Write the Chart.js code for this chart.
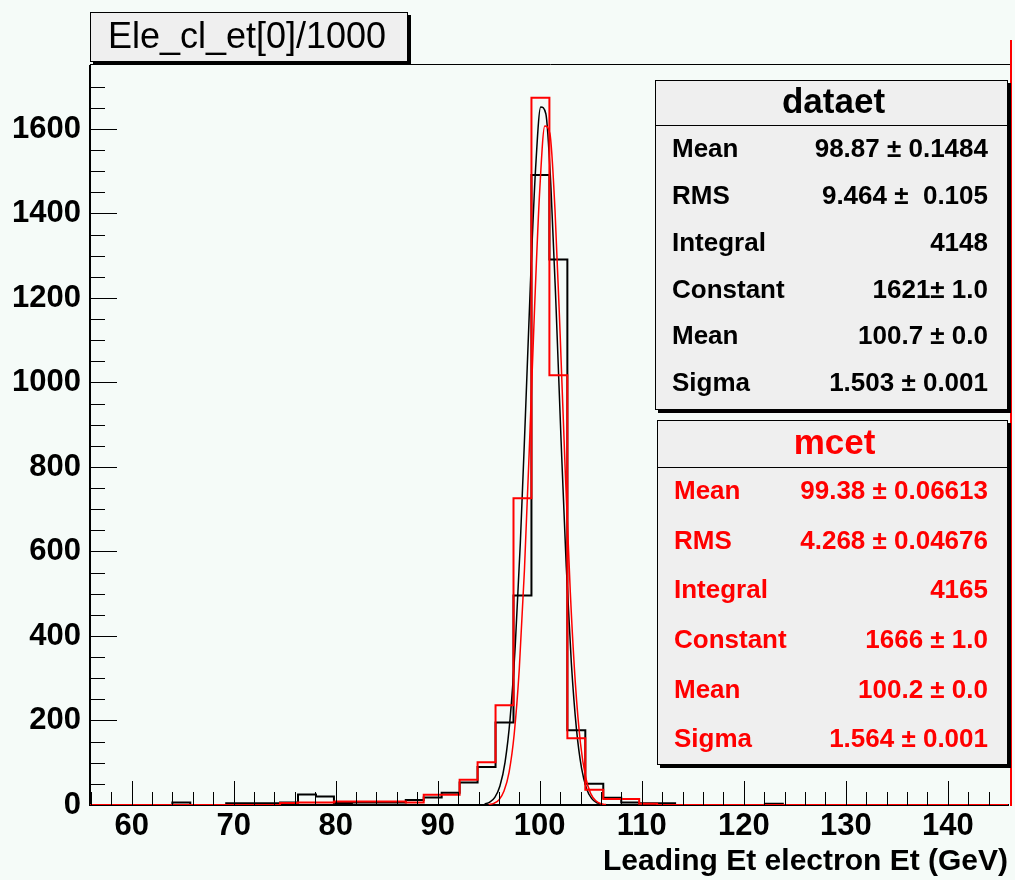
<!DOCTYPE html>
<html>
<head>
<meta charset="utf-8">
<script src="https://cdn.jsdelivr.net/npm/chart.js@4/dist/chart.umd.min.js"></script>
<style>
  html, body { margin: 0; padding: 0; background: #f5fbf8; }
  #wrap { width: 1015px; height: 880px; }
</style>
</head>
<body>
<div id="wrap"><canvas id="c" width="1015" height="880"></canvas></div>
<script>
// Histogram binning (GeV)
const binStart = 55.19;
const binWidth = 1.76;

// Bin contents, one per bin starting at binStart
const dataCounts = [
    0, 0, 0, 0, 0, 6, 0, 0, 4, 4,
    4, 6, 25, 20, 5, 6, 6, 6, 12, 18,
    29, 53, 90, 195, 496, 1491, 1291, 177, 50, 17,
    6, 4, 4, 0, 0, 0, 0, 0, 3, 0,
    0, 0, 0, 0, 0, 0, 0, 0, 0, 0,
    0, 0
];
const mcCounts = [
    0, 0, 0, 0, 0, 0, 0, 0, 0, 0,
    0, 5, 6, 6, 8, 8, 8, 8, 6, 24,
    24, 60, 101, 236, 726, 1674, 1017, 158, 36, 14,
    14, 3, 0, 0, 0, 0, 0, 0, 0, 0,
    0, 0, 0, 0, 0, 0, 0, 0, 0, 0,
    0, 0
];

// Fit curves
const blackFitX = [94.6, 95.1, 95.6, 96.1, 96.6, 97.1, 97.6, 98.1, 98.6, 99.1, 99.6, 100.1,
    100.6, 101.1, 101.6, 102.1, 102.6, 103.1, 103.6, 104.1, 104.6, 105.1, 105.6, 106.1];
const blackFitY = [2, 7, 18, 45, 101, 205, 376, 620, 923, 1241, 1508, 1652,
    1636, 1462, 1179, 859, 565, 336, 180, 87, 38, 15, 5, 2];
const redFitX = [95, 95.5, 96, 96.5, 97, 97.5, 98, 98.5, 99, 99.5, 100, 100.5,
    101, 101.5, 102, 102.5, 103, 103.5, 104, 104.5, 105, 105.5, 106, 106.5];
const redFitY = [1, 4, 12, 33, 78, 168, 323, 555, 855, 1179, 1454, 1607,
    1589, 1407, 1115, 791, 503, 286, 145, 66, 27, 10, 3, 1];

// Axes
const xMin = 55.92;
const xMax = 145.9;
const xTicks = [60, 70, 80, 90, 100, 110, 120, 130, 140];
const yMax = 1749;
const yTicks = [0, 200, 400, 600, 800, 1000, 1200, 1400, 1600];

// Stats boxes text
const dataStats = [
    ['Mean', '98.87 \u00b1 0.1484'],
    ['RMS', '9.464 \u00b1  0.105'],
    ['Integral', '4148'],
    ['Constant', '1621\u00b1 1.0'],
    ['Mean', '100.7 \u00b1 0.0'],
    ['Sigma', '1.503 \u00b1 0.001']
];
const mcStats = [
    ['Mean', '99.38 \u00b1 0.06613'],
    ['RMS', '4.268 \u00b1 0.04676'],
    ['Integral', '4165'],
    ['Constant', '1666 \u00b1 1.0'],
    ['Mean', '100.2 \u00b1 0.0'],
    ['Sigma', '1.564 \u00b1 0.001']
];

const FONT = "'Liberation Sans', Arial, Helvetica, sans-serif";

// histogram outline points: left edge of each bin plus closing edge
function histPoints(counts) {
    const pts = counts.map((v, i) => ({ x: binStart + i * binWidth, y: v }));
    pts.push({ x: binStart + counts.length * binWidth, y: counts[counts.length - 1] });
    return pts;
}

function curvePoints(xs, ys) {
    return xs.map((x, i) => ({ x: x, y: ys[i] }));
}

// Boxes with a drop shadow, ROOT style
function shadowBox(ctx, x, y, w, h) {
    ctx.fillStyle = '#000';
    ctx.fillRect(x + 3, y + 3, w, h);
    ctx.fillStyle = '#efefef';
    ctx.fillRect(x, y, w, h);
    ctx.strokeStyle = '#000';
    ctx.lineWidth = 1;
    ctx.strokeRect(x + 0.5, y + 0.5, w - 1, h - 1);
}

function drawStats(ctx, box, title, rows, color) {
    shadowBox(ctx, box.x, box.y, box.w, box.h);
    ctx.beginPath();
    ctx.moveTo(box.x, box.y + box.head + 0.5);
    ctx.lineTo(box.x + box.w, box.y + box.head + 0.5);
    ctx.strokeStyle = '#000';
    ctx.lineWidth = 1;
    ctx.stroke();

    ctx.fillStyle = color;
    ctx.textBaseline = 'middle';
    ctx.textAlign = 'center';
    ctx.font = 'bold 35px ' + FONT;
    ctx.fillText(title, box.x + box.w / 2 + 2, box.y + box.head / 2 + 1);

    ctx.font = 'bold 26px ' + FONT;
    rows.forEach((row, i) => {
        const yy = box.firstRow + i * box.rowStep;
        ctx.textAlign = 'left';
        ctx.fillText(row[0], box.x + 17, yy);
        ctx.textAlign = 'right';
        ctx.fillText(row[1], box.x + box.w - 20, yy);
    });
}

const rootDecor = {
    id: 'rootDecor',
    afterDatasetsDraw(chart) {
        const { ctx, chartArea, scales } = chart;
        const x = scales.x;
        const y = scales.y;
        ctx.save();
        ctx.strokeStyle = '#000';
        ctx.lineWidth = 1;

        // y ticks inside the frame
        ctx.beginPath();
        for (let v = 0; v <= yMax; v += 50) {
            const py = Math.round(y.getPixelForValue(v)) + 0.5;
            const len = v % 200 === 0 ? 27 : 15;
            ctx.moveTo(chartArea.left, py);
            ctx.lineTo(chartArea.left + len, py);
        }
        // x ticks inside the frame
        for (let v = 56; v <= xMax; v += 2) {
            const px = Math.round(x.getPixelForValue(v)) + 0.5;
            const len = v % 10 === 0 ? 24 : 13;
            ctx.moveTo(px, chartArea.bottom);
            ctx.lineTo(px, chartArea.bottom - len);
        }
        ctx.stroke();

        // top frame line
        ctx.beginPath();
        ctx.moveTo(chartArea.left, chartArea.top - 1.5);
        ctx.lineTo(chartArea.right + 3, chartArea.top - 1.5);
        ctx.stroke();

        // right edge in red
        ctx.beginPath();
        ctx.strokeStyle = '#ff0000';
        ctx.lineWidth = 2;
        ctx.moveTo(chartArea.right + 3, 40);
        ctx.lineTo(chartArea.right + 3, chartArea.bottom + 1);
        ctx.stroke();
        ctx.restore();
    },
    afterDraw(chart) {
        const ctx = chart.ctx;
        ctx.save();

        // title box
        shadowBox(ctx, 90, 12, 318, 50);
        ctx.fillStyle = '#000';
        ctx.font = '36px ' + FONT;
        ctx.textAlign = 'center';
        ctx.textBaseline = 'middle';
        ctx.fillText('Ele_cl_et[0]/1000', 247, 38);

        drawStats(ctx, { x: 655, y: 80, w: 353, h: 330, head: 45, firstRow: 150, rowStep: 46.8 },
            'dataet', dataStats, '#000');
        drawStats(ctx, { x: 657, y: 420, w: 351, h: 345, head: 47, firstRow: 492, rowStep: 49.6 },
            'mcet', mcStats, '#ff0000');
        ctx.restore();
    }
};

new Chart(document.getElementById('c'), {
    type: 'line',
    data: {
        datasets: [
            {
                label: 'mcet',
                data: histPoints(mcCounts),
                stepped: 'before',
                borderColor: '#ff0000',
                borderWidth: 2,
                pointRadius: 0,
                fill: false,
                order: 0
            },
            {
                label: 'redFit',
                data: curvePoints(redFitX, redFitY),
                borderColor: '#ff0000',
                borderWidth: 1.5,
                pointRadius: 0,
                cubicInterpolationMode: 'monotone',
                fill: false,
                order: 1
            },
            {
                label: 'blackFit',
                data: curvePoints(blackFitX, blackFitY),
                borderColor: '#000000',
                borderWidth: 1.5,
                pointRadius: 0,
                cubicInterpolationMode: 'monotone',
                fill: false,
                order: 2
            },
            {
                label: 'dataet',
                data: histPoints(dataCounts),
                stepped: 'before',
                borderColor: '#000000',
                borderWidth: 2,
                pointRadius: 0,
                fill: false,
                order: 3
            }
        ]
    },
    options: {
        responsive: false,
        animation: false,
        events: [],
        layout: { padding: { top: 66, right: 7, left: 0, bottom: 0 } },
        plugins: {
            legend: { display: false },
            tooltip: { enabled: false }
        },
        scales: {
            x: {
                type: 'linear',
                min: xMin,
                max: xMax,
                afterFit: (scale) => { scale.height = 75; },
                afterBuildTicks: (scale) => { scale.ticks = xTicks.map(v => ({ value: v })); },
                grid: { display: false, drawTicks: false },
                border: { display: true, color: '#000', width: 2 },
                ticks: {
                    color: '#000',
                    padding: 3,
                    maxRotation: 0,
                    autoSkip: false,
                    callback: (v) => String(v),
                    font: { family: FONT, size: 31, weight: 'bold' }
                },
                title: {
                    display: true,
                    text: 'Leading Et electron Et (GeV)',
                    align: 'end',
                    color: '#000',
                    padding: { top: 0, bottom: 0 },
                    font: { family: FONT, size: 30, weight: 'bold' }
                }
            },
            y: {
                type: 'linear',
                min: 0,
                max: yMax,
                afterFit: (scale) => { scale.width = 90; },
                afterBuildTicks: (scale) => { scale.ticks = yTicks.map(v => ({ value: v })); },
                grid: { display: false, drawTicks: false },
                border: { display: true, color: '#000', width: 2 },
                ticks: {
                    color: '#000',
                    padding: 9,
                    callback: (v) => String(v),
                    font: { family: FONT, size: 31, weight: 'bold' }
                }
            }
        }
    },
    plugins: [rootDecor]
});
</script>
</body>
</html>
